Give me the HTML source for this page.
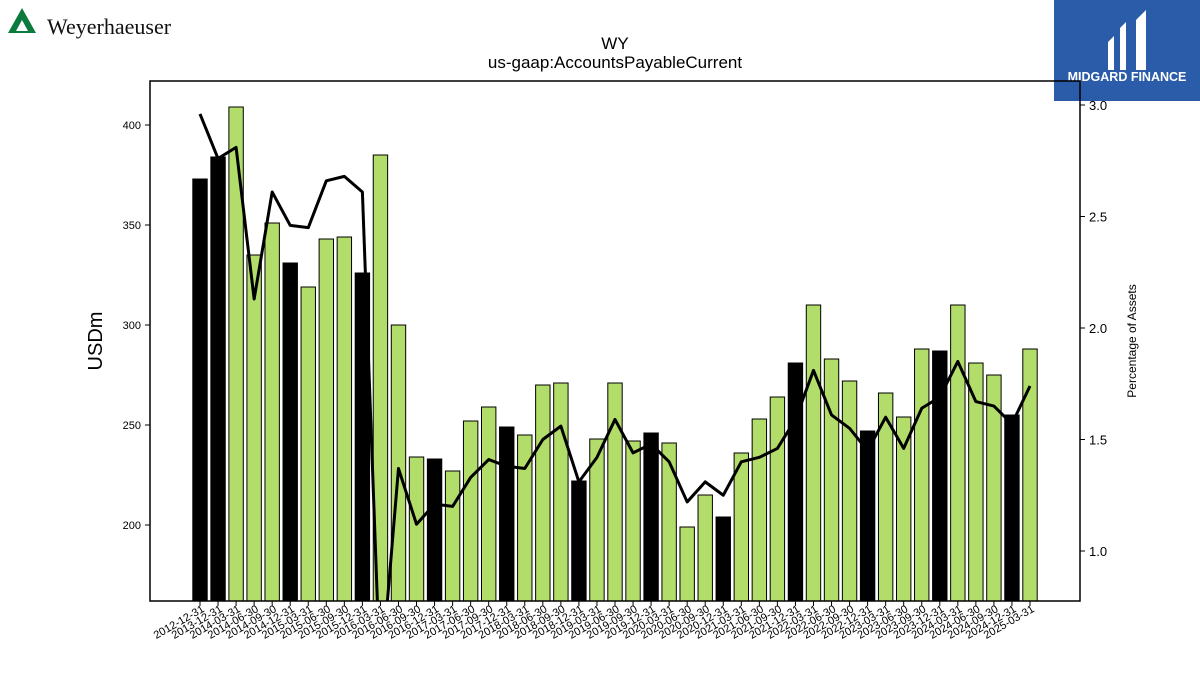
<!DOCTYPE html>
<html><head><meta charset="utf-8"><style>
body{margin:0;background:#fff;width:1200px;height:675px;overflow:hidden;font-family:"Liberation Sans","DejaVu Sans",sans-serif}
svg{position:absolute;left:0;top:0}
</style></head><body>
<svg id="chart" width="1200" height="675">
  <g>
    <polygon points="22,8 8,33 36,33" fill="#0a7a3e"/>
    <polygon points="22,20 16,31 28,31" fill="#fff"/>
    <text x="47" y="34" font-family="Liberation Serif,serif" font-size="22" fill="#111">Weyerhaeuser</text>
  </g>
  <g>
    <rect x="1054" y="0" width="146" height="101" fill="#2a5caa"/>
    <path d="M1108,42 l6,-6 v34 h-6z M1120,28 l6,-6 v48 h-6z M1136,20 l10,-10 v60 h-10z" fill="#fff"/>
    <text x="1127" y="81" font-size="12.5" font-weight="bold" fill="#fff" text-anchor="middle">MIDGARD FINANCE</text>
  </g>
  <text x="615" y="49" font-size="17" text-anchor="middle">WY</text>
  <text x="615" y="68" font-size="17" text-anchor="middle">us-gaap:AccountsPayableCurrent</text>
  <text transform="translate(102,341) rotate(-90)" font-size="20" text-anchor="middle">USDm</text>
  <text transform="translate(1136,341) rotate(-90)" font-size="12" text-anchor="middle">Percentage of Assets</text>
  <g id="bars"></g><g id="line"></g><g id="axes"></g>
  <rect x="150" y="81" width="930" height="520" fill="none" stroke="#000" stroke-width="1.5"/>
</svg>
<script>
const categories=["2012-12-31","2013-12-31","2014-03-31","2014-06-30","2014-09-30","2014-12-31","2015-03-31","2015-06-30","2015-09-30","2015-12-31","2016-03-31","2016-06-30","2016-09-30","2016-12-31","2017-03-31","2017-06-30","2017-09-30","2017-12-31","2018-03-31","2018-06-30","2018-09-30","2018-12-31","2019-03-31","2019-06-30","2019-09-30","2019-12-31","2020-03-31","2020-06-30","2020-09-30","2020-12-31","2021-03-31","2021-06-30","2021-09-30","2021-12-31","2022-03-31","2022-06-30","2022-09-30","2022-12-31","2023-03-31","2023-06-30","2023-09-30","2023-12-31","2024-03-31","2024-06-30","2024-09-30","2024-12-31","2025-03-31"];
const values=[373,384,409,335,351,331,319,343,344,326,385,300,234,233,227,252,259,249,245,270,271,222,243,271,242,246,241,199,215,204,236,253,264,281,310,283,272,247,266,254,288,287,310,281,275,255,288];
const pctAssets=[2.96,2.76,2.81,2.13,2.61,2.46,2.45,2.66,2.68,2.61,0.4,1.37,1.12,1.21,1.20,1.33,1.41,1.38,1.37,1.50,1.56,1.31,1.42,1.59,1.44,1.48,1.40,1.22,1.31,1.25,1.40,1.42,1.46,1.59,1.81,1.61,1.55,1.45,1.60,1.46,1.64,1.69,1.85,1.67,1.65,1.57,1.74];
const leftTicks=[200,250,300,350,400];
const rightTicks=[1.0,1.5,2.0,2.5,3.0];
const NS="http://www.w3.org/2000/svg";
const X0=150,X1=1080,Y0=81,Y1=601;
function xs(i){return 200+i*(1030-200)/(categories.length-1);}
function ys(v){return 525-(v-200)*2;}
function yr(p){return 551-(p-1.0)*223;}
function mk(t,a,p){const e=document.createElementNS(NS,t);for(const k in a)e.setAttribute(k,a[k]);p.appendChild(e);return e;}
const bars=document.getElementById('bars'),line=document.getElementById('line'),axes=document.getElementById('axes');
values.forEach((v,i)=>{
  const annual=categories[i].endsWith('12-31');
  const top=Math.max(ys(v),Y0);
  const r=mk('rect',{x:xs(i)-7.2,y:top,width:14.4,height:Y1-top,fill:annual?'#000':'#b2dd6a',stroke:'#000','stroke-width':1},bars);
  
  
});
const cp=mk('clipPath',{id:'clip'},line);mk('rect',{x:X0,y:Y0,width:X1-X0,height:Y1-Y0},cp);
const pl=mk('polyline',{points:pctAssets.map((p,i)=>xs(i)+','+yr(p)).join(' '),fill:'none',stroke:'#000','stroke-width':3,'stroke-linejoin':'round','clip-path':'url(#clip)'},line);


leftTicks.forEach(t=>{const y=ys(t);mk('line',{x1:X0-5,x2:X0,y1:y,y2:y,stroke:'#000'},axes);
  const tx=mk('text',{x:X0-9,y:y+4,'font-size':11,'text-anchor':'end'},axes);tx.textContent=t;
  
  });
rightTicks.forEach(t=>{const y=yr(t);mk('line',{x1:X1,x2:X1+5,y1:y,y2:y,stroke:'#000'},axes);
  const tx=mk('text',{x:X1+9,y:y+5,'font-size':13},axes);tx.textContent=t.toFixed(1);
  
  });
categories.forEach((c,i)=>{const x=xs(i);mk('line',{x1:x,x2:x,y1:Y1,y2:Y1+5,stroke:'#000'},axes);
  const tx=mk('text',{transform:'translate('+(x+5)+',611) rotate(-30)','font-size':11,'text-anchor':'end'},axes);tx.textContent=c;
  
  });
</script>
</body></html>
